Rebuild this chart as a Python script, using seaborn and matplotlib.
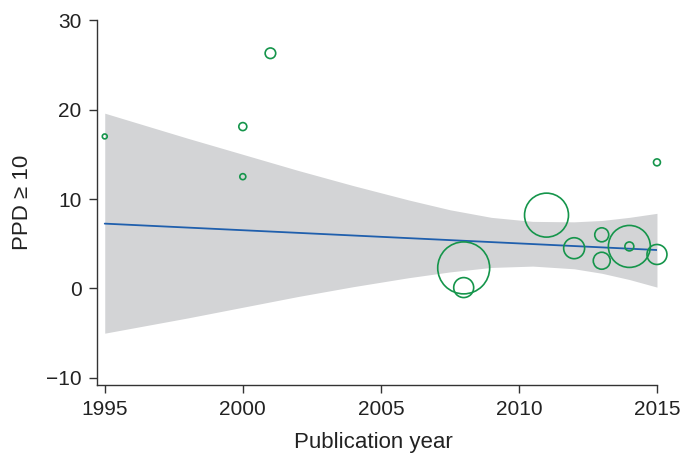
import numpy as np
import pandas as pd
import seaborn as sns
import matplotlib
matplotlib.use("Agg")
import matplotlib.pyplot as plt

# study points (year, PPD >= 10 estimate, study weight ~ bubble area)
years = [1995, 2000, 2000, 2001, 2015, 2011, 2008, 2008, 2012, 2013, 2013, 2014, 2014, 2015]
ppd = [17.0, 18.1, 12.5, 26.3, 14.1, 8.2, 2.3, 0.1, 4.5, 6.0, 3.1, 4.7, 4.7, 3.8]
weights = [6, 16, 9, 28, 12, 484, 676, 100, 110, 49, 72, 441, 20, 100]

# fitted meta-regression line
fit_years = [1995, 2015]
fit_vals = [7.25, 4.3]

# confidence band
band_years = [1995, 1998, 2000, 2002, 2004, 2006, 2007.5, 2009, 2010.5, 2012, 2013, 2014, 2015]
band_upper = [19.6, 16.8, 15.0, 13.2, 11.5, 9.9, 8.8, 7.95, 7.5, 7.45, 7.6, 7.95, 8.4]
band_lower = [-5.0, -3.3, -2.1, -0.9, 0.2, 1.2, 1.85, 2.35, 2.5, 2.2, 1.7, 1.0, 0.15]

df = pd.DataFrame({"year": years, "ppd": ppd, "w": weights})

sns.set_style("ticks")
plt.rcParams["font.family"] = ["Liberation Sans", "DejaVu Sans"]

fig = plt.figure(figsize=(6.93, 4.69), dpi=100)
ax = fig.add_axes([0.140, 0.179, 0.808, 0.778])

ax.fill_between(band_years, band_lower, band_upper, color="#d3d4d6", lw=0, zorder=1)
sns.lineplot(x=fit_years, y=fit_vals, color="#1f5fad", lw=1.3, ax=ax, zorder=2)
sns.scatterplot(data=df, x="year", y="ppd", size="w", sizes=(0, 2070), size_norm=(0, 1000),
                facecolor="none", edgecolor="#15954b", linewidth=1.2, legend=False,
                clip_on=False, ax=ax, zorder=3)

ax.set_xlim(1994.72, 2015.0)
ax.set_ylim(-10.8, 30)
ax.set_xticks([1995, 2000, 2005, 2010, 2015])
ax.set_yticks([-10, 0, 10, 20, 30])
ax.set_yticklabels(["\u221210", "0", "10", "20", "30"])
ax.tick_params(labelsize=15, length=6, width=1, pad=5, color="#333333", labelcolor="#222222")
for s in ["left", "bottom"]:
    ax.spines[s].set_linewidth(1)
    ax.spines[s].set_color("#333333")
sns.despine(ax=ax)
ax.set_xlabel("Publication year", fontsize=16, color="#222222")
ax.set_ylabel("PPD \u2265 10", fontsize=16, color="#222222")
ax.xaxis.set_label_coords(0.494, -0.128)
ax.yaxis.set_label_coords(-0.115, 0.5)

fig.savefig("out.png", dpi=100)
